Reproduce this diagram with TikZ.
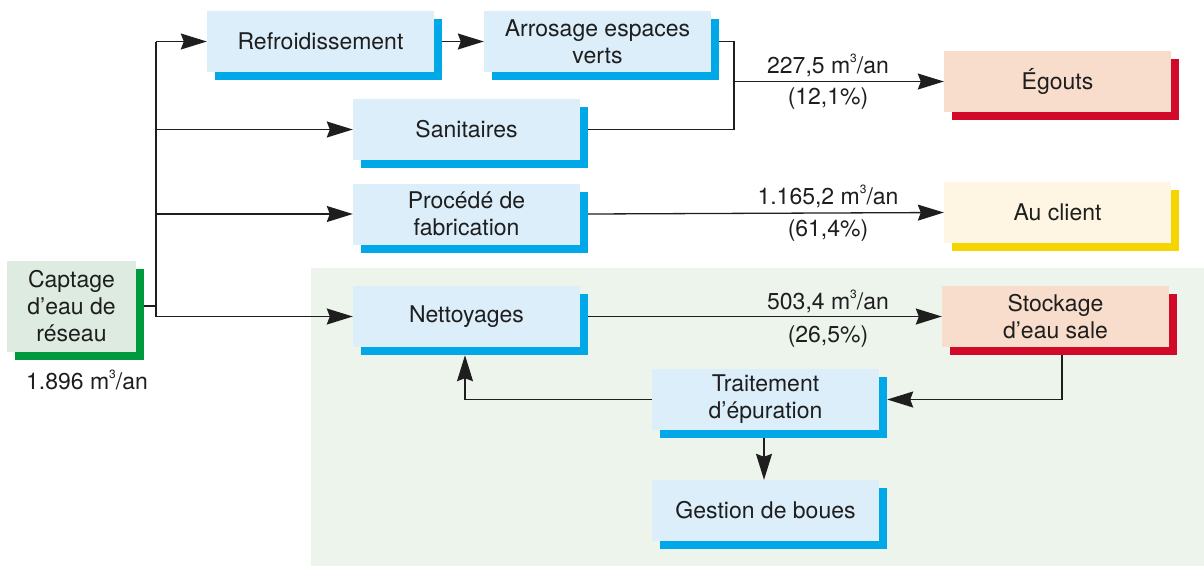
\documentclass[tikz,border=0pt]{standalone}
\usepackage{fontspec}
\setmainfont{TeX Gyre Heros}
\usetikzlibrary{arrows.meta,shadows}

\definecolor{boxblue}{HTML}{DBEEFA}
\definecolor{shblue}{HTML}{00A8E8}
\definecolor{boxpink}{HTML}{F9DDCC}
\definecolor{shred}{HTML}{D10A2A}
\definecolor{boxcream}{HTML}{FEF6E2}
\definecolor{shyellow}{HTML}{F5D500}
\definecolor{boxgreen}{HTML}{DDEBE0}
\definecolor{shgreen}{HTML}{009A3E}
\definecolor{zonegreen}{HTML}{EDF4EC}
\definecolor{txt}{HTML}{1E1E1E}

\newcommand{\cube}{\raisebox{0.5em}{\fontsize{12}{12}\selectfont 3}}

\begin{document}
\begin{tikzpicture}[x=1pt,y=-1pt,
		font=\fontsize{23}{27}\selectfont,
		box/.style={fill=boxblue, text=txt, align=center, inner sep=0pt,
			minimum width=227pt, minimum height=61pt,
			general shadow={fill=shblue, shadow xshift=8pt, shadow yshift=-8pt}},
		flow/.style={draw=txt, line width=1.3pt, -{Stealth[length=26pt,width=16pt,inset=3pt]}},
		link/.style={draw=txt, line width=1.3pt},
		lbl/.style={text=txt, inner sep=0pt}]
				\useasboundingbox (0,0) rectangle (1204,566);
				\fill[zonegreen] (311,268) rectangle (1204,566);

				% boxes
				\node[box, fill=boxgreen, minimum width=129pt, minimum height=91pt,
					general shadow={fill=shgreen, shadow xshift=8pt, shadow yshift=-8pt}]
					(captage) at (71.5,306) {Captage\\d’eau de\\réseau};
				\node[lbl] (total) at (87,380) {1.896 m\cube/an};

				\node[box] (refroid) at (320.5,41.5) {Refroidissement};
				\node[box] (arrosage) at (597.5,41.5) {Arrosage espaces\\verts};
				\node[box] (sanit) at (466.5,129.5) {Sanitaires};
				\node[box] (procede) at (466.5,214) {Procédé de\\fabrication};
				\node[box] (nettoy) at (466.5,316.5) {Nettoyages};
				\node[box] (traitement) at (765.5,399.5) {Traitement\\d’épuration};
				\node[box] (gestion) at (765.5,510.5) {Gestion de boues};

				\node[box, fill=boxpink, general shadow={fill=shred, shadow xshift=8pt, shadow yshift=-8pt}]
					(egouts) at (1057.5,81.5) {Égouts};
				\node[box, fill=boxcream, general shadow={fill=shyellow, shadow xshift=8pt, shadow yshift=-8pt}]
					(client) at (1057.5,212.5) {Au client};
				\node[box, fill=boxpink, general shadow={fill=shred, shadow xshift=8pt, shadow yshift=-8pt}]
					(stockage) at (1055.5,316.5) {Stockage\\d’eau sale};

				% distribution
				\coordinate (bus) at (156,0);
				\coordinate (join) at (734,0);
				\coordinate (lblx) at (828,0);
				\draw[link] ([xshift=8pt]captage.east) -- (captage.east -| bus);
				\draw[link] (bus |- refroid.west) -- (bus |- nettoy.west);
				\draw[flow] (bus |- refroid.west) -- (refroid.west);
				\draw[flow] (bus |- sanit.west) -- (sanit.west);
				\draw[flow] (bus |- procede.west) -- (procede.west);
				\draw[flow] (bus |- nettoy.west) -- (nettoy.west);
				\draw[flow] ([xshift=8pt]refroid.east) -- (arrosage.west);

				% rejets
				\draw[link] ([xshift=8pt]arrosage.east) -| (join |- sanit.east) -- ([xshift=8pt]sanit.east);
				\draw[flow] (join |- egouts.west) -- (egouts.west);
				\node[lbl] (vegouts) at ([yshift=16pt]lblx |- egouts.west) {227,5 m\cube/an};
				\node[lbl] (pegouts) at ([yshift=-17pt]lblx |- egouts.west) {(12,1\%)};

				\draw[flow] ([xshift=8pt]procede.east) -- (client.west);
				\node[lbl] (vclient) at ([yshift=16pt]lblx |- client.west) {1.165,2 m\cube/an};
				\node[lbl] (pclient) at ([yshift=-18pt]lblx |- client.west) {(61,4\%)};

				\draw[flow] ([xshift=8pt]nettoy.east) -- (stockage.west);
				\node[lbl] (vstock) at ([yshift=15pt]lblx |- stockage.west) {503,4 m\cube/an};
				\node[lbl] (pstock) at ([yshift=-20pt]lblx |- stockage.west) {(26,5\%)};

				% recyclage
				\draw[flow] ([xshift=6.5pt,yshift=-8pt]stockage.south) |- ([xshift=8pt]traitement.east);
				\draw[flow] (traitement.west) -| ([xshift=-1.5pt,yshift=-8pt]nettoy.south);
				\draw[flow] ([xshift=-1.5pt,yshift=-8pt]traitement.south) -- ([xshift=-1.5pt]gestion.north);

			\end{tikzpicture}
\end{document}
